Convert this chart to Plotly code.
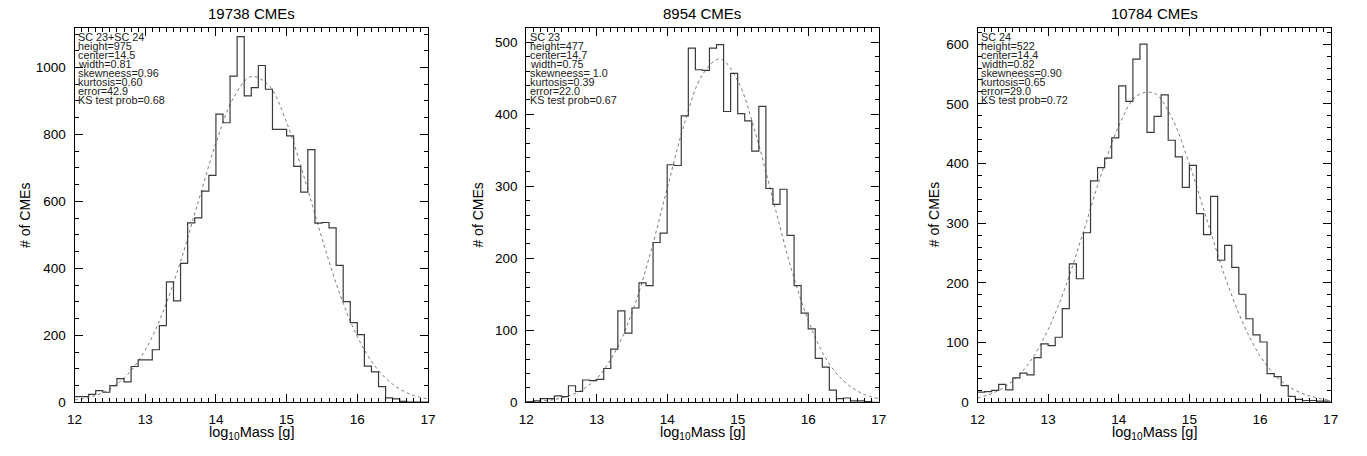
import numpy as np
import plotly.graph_objects as go

# ---------------- data ----------------
bin_start = 12.0
bin_width = 0.1

titles = ["19738 CMEs", "8954 CMEs", "10784 CMEs"]

counts_all = [17, 17, 24, 35, 30, 50, 71, 61, 107, 127,
              127, 157, 229, 360, 303, 415, 536, 551, 631, 678,
              861, 835, 974, 1092, 915, 940, 1006, 935, 815, 815,
              796, 705, 628, 755, 535, 537, 521, 409, 301, 238,
              202, 108, 91, 47, 13, 10, 3, 1, 1, 1]

counts_sc23 = [1, 2, 5, 5, 9, 8, 23, 15, 31, 30,
               32, 47, 74, 127, 96, 131, 166, 162, 222, 235,
               330, 329, 398, 492, 462, 461, 492, 497, 404, 457,
               401, 391, 349, 411, 297, 275, 296, 232, 162, 124,
               102, 61, 49, 17, 5, 6, 2, 2, 1, 0]

counts_sc24 = [17, 18, 20, 30, 21, 41, 49, 46, 75, 98,
               95, 109, 157, 232, 207, 284, 371, 393, 409, 443,
               530, 504, 575, 600, 452, 479, 515, 439, 411, 360,
               397, 316, 281, 345, 238, 263, 226, 181, 140, 113,
               101, 48, 43, 28, 10, 5, 3, 3, 2, 2]

# fitted (dashed) curves, read at 0.25 steps
fit_x = [12.0, 12.25, 12.5, 12.75, 13.0, 13.25, 13.5, 13.75, 14.0, 14.25, 14.5,
         14.75, 15.0, 15.25, 15.5, 15.75, 16.0, 16.25, 16.5, 16.75, 17.0]
fit_all = [7, 17, 40, 83, 156, 269, 421, 599, 774, 910, 973,
           946, 836, 671, 490, 325, 196, 108, 54, 24, 10]
fit_sc23 = [0.6, 2, 6, 15, 33, 68, 124, 203, 297, 389, 455,
            477, 447, 375, 282, 189, 114, 61, 30, 13, 5]
fit_sc24 = [7, 17, 36, 69, 122, 195, 286, 381, 463, 513, 518,
            477, 399, 305, 212, 135, 78, 41, 20, 9, 3]

info_all = ["SC 23+SC 24", "height=975", "center=14.5", "width=0.81",
            "skewneess=0.96", "kurtosis=0.60", "error=42.9", "KS test prob=0.68"]
info_sc23 = ["SC 23", "height=477", "center=14.7", "width=0.75",
             "skewneess= 1.0", "kurtosis=0.39", "error=22.0", "KS test prob=0.67"]
info_sc24 = ["SC 24", "height=522", "center=14.4", "width=0.82",
             "skewneess=0.90", "kurtosis=0.65", "error=29.0", "KS test prob=0.72"]

y_ranges = [[0, 1118], [0, 520], [0, 627]]
y_dticks = [200, 100, 100]
y_minor = [50, 20, 20]

x_ticks = [12, 13, 14, 15, 16, 17]

# ---------------- layout geometry (pixels) ----------------
W, H = 1367, 456
panel_px = [(67.3, 425.0), (524.3, 881.0), (981.0, 1338.3)]
top_px, bot_px = 28.5, 409.5
ytitle_px = [17, 476, 937]

FONT = "Liberation Sans, Arial, Helvetica, sans-serif"

fig = go.Figure()
series = [(counts_all, fit_all, info_all), (counts_sc23, fit_sc23, info_sc23),
          (counts_sc24, fit_sc24, info_sc24)]

annotations = []
for i, (counts, fit, info) in enumerate(series):
    n = len(counts)
    edges = bin_start + bin_width * np.arange(n + 1)
    xs = list(edges)
    ys = list(counts) + [counts[-1]]
    suffix = "" if i == 0 else str(i + 1)
    xa = "x" + suffix
    ya = "y" + suffix
    fig.add_trace(go.Scatter(x=fit_x, y=fit, mode="lines", xaxis=xa, yaxis=ya,
                             line=dict(color="#7a7a7a", width=1, dash="3px,3px",
                                       shape="spline", smoothing=1.0),
                             showlegend=False, hoverinfo="skip"))
    fig.add_trace(go.Scatter(x=xs, y=ys, mode="lines", xaxis=xa, yaxis=ya,
                             line=dict(color="#3a3a3a", width=1.2, shape="hv"),
                             showlegend=False, hoverinfo="skip"))

    x0, x1 = panel_px[i]
    dom_x = [x0 / W, x1 / W]
    dom_y = [1 - bot_px / H, 1 - top_px / H]
    axis_common = dict(showline=True, linecolor="black", linewidth=1, mirror="ticks",
                       ticks="inside", ticklen=8, tickwidth=1, tickcolor="black",
                       showgrid=False, zeroline=False,
                       tickfont=dict(family=FONT, size=13.5, color="black"))
    fig.layout["xaxis" + suffix] = dict(
        domain=dom_x, range=[12, 17], anchor=ya, tickvals=x_ticks,
        ticklabelstandoff=4,
        minor=dict(ticks="inside", ticklen=4, dtick=0.1, tick0=12, tickcolor="black", showgrid=False),
        **axis_common)
    fig.layout["yaxis" + suffix] = dict(
        domain=dom_y, range=y_ranges[i], anchor=xa, dtick=y_dticks[i], tick0=0,
        ticklabelstandoff=5,
        minor=dict(ticks="inside", ticklen=4, dtick=y_minor[i], tick0=0, tickcolor="black", showgrid=False),
        **axis_common)

    cx = (x0 + x1) / 2 / W
    annotations.append(dict(text=titles[i], x=cx, y=1 - 14 / H, xref="paper", yref="paper",
                            showarrow=False, xanchor="center", yanchor="middle",
                            font=dict(family=FONT, size=15, color="black")))
    annotations.append(dict(text="log<sub>10</sub>Mass [g]", x=cx, y=1 - 441 / H,
                            xref="paper", yref="paper", showarrow=False,
                            xanchor="center", yanchor="middle",
                            font=dict(family=FONT, size=14.5, color="black")))
    annotations.append(dict(text="# of CMEs", x=ytitle_px[i] / W, y=1 - (top_px + bot_px) / 2 / H,
                            xref="paper", yref="paper", showarrow=False, textangle=-90,
                            xanchor="center", yanchor="middle",
                            font=dict(family=FONT, size=14, color="black")))
    for j, line in enumerate(info):
        annotations.append(dict(text=line, x=(x0 + 3.0) / W, y=1 - (37.7 + 9.1 * j) / H,
                                xref="paper", yref="paper", showarrow=False,
                                xanchor="left", yanchor="middle", borderpad=0,
                                font=dict(family=FONT, size=10.8, color="#222222")))

fig.update_layout(width=W, height=H, margin=dict(l=0, r=0, t=0, b=0),
                  paper_bgcolor="white", plot_bgcolor="white",
                  annotations=annotations, showlegend=False)

fig.write_html("out.html", config={"displayModeBar": False},
               post_script="document.body.style.margin='0';document.body.style.padding='0';"
                           "document.documentElement.style.overflow='hidden';")
